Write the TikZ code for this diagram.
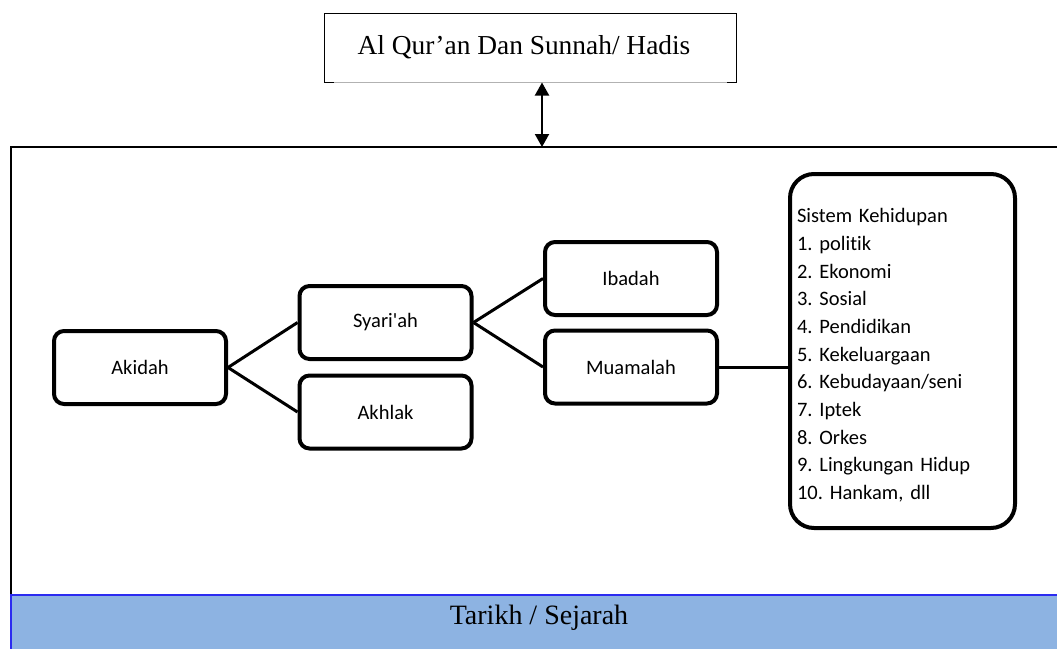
\documentclass[tikz,border=0pt]{standalone}
\usepackage{fontspec}
\setmainfont{Carlito}[Ligatures={NoCommon}]
\newfontfamily\timesfont{Liberation Serif}
\usetikzlibrary{arrows.meta}

\definecolor{balkenblau}{HTML}{8DB3E2}
\definecolor{randblau}{HTML}{2B2BF0}

\tikzset{
  kotak/.style={draw, line width=4pt, rounded corners=10pt, minimum width=172pt, minimum height=73pt, font=\fontsize{20.5}{24}\selectfont},
  garis/.style={line width=3pt},
}

\begin{document}
\frenchspacing
\begin{tikzpicture}[x=1pt, y=-1pt]
\useasboundingbox (0,0) rectangle (1057,648);
\clip (0,0) rectangle (1057,648);

% Rahmen
\draw[line width=1.5pt] (11,147) rectangle (1070,660);
\coordinate (rahmenatas) at (542,147);

% Tarikh
\fill[balkenblau] (11,595) rectangle (1070,660);
\draw[randblau, line width=1.5pt] (11,660) -- (11,595) -- (1070,595);
\node (tarikh) at (539,618) {\timesfont\fontsize{28}{30}\selectfont Tarikh / Sejarah};

% Quelle
\node[draw, line width=1pt, minimum width=412pt, minimum height=69pt] (quran) at (530.5,47.5) {};
\node[font=\timesfont\fontsize{27.4}{30}\selectfont] (qurantext) at (524,47) {Al Qur’an Dan Sunnah/ Hadis};
\draw[gray!60, line width=1.2pt] ([xshift=10pt]quran.south west) -- ([xshift=-10pt]quran.south east);
\draw[{Triangle[width=14pt,length=13pt]}-{Triangle[width=14pt,length=13pt]}, line width=2pt] ([xshift=11.5pt]quran.south) -- (rahmenatas);

% Kotak
\node[kotak] (akidah) at (140,367.5) {Akidah};
\node[kotak] (syariah) at (385.5,322.5) {Syari\textquotesingle ah};
\node[kotak] (akhlak) at (385.5,412) {Akhlak};
\node[kotak] (ibadah) at (631,278.5) {Ibadah};
\node[kotak] (muamalah) at (631,367) {Muamalah};

\node[draw, line width=4pt, rounded corners=24pt, minimum height=354pt, text width=211pt, inner xsep=7pt, align=left, font=\fontsize{20.5}{27.7}\selectfont] (sistem) at (902.5,351) {\rule{0pt}{23pt}Sistem Kehidupan\\
1. politik\\
2. Ekonomi\\
3. Sosial\\
4. Pendidikan\\
5. Kekeluargaan\\
6. Kebudayaan/seni\\
7. Iptek\\
8. Orkes\\
9. Lingkungan Hidup\\
10. Hankam, dll};

% Garis
\draw[garis] (akidah.east) -- (syariah.west);
\draw[garis] (akidah.east) -- (akhlak.west);
\draw[garis] (syariah.east) -- (ibadah.west);
\draw[garis] (syariah.east) -- (muamalah.west);
\draw[garis] (muamalah.east) -- (muamalah.east -| sistem.west);

\end{tikzpicture}
\end{document}
